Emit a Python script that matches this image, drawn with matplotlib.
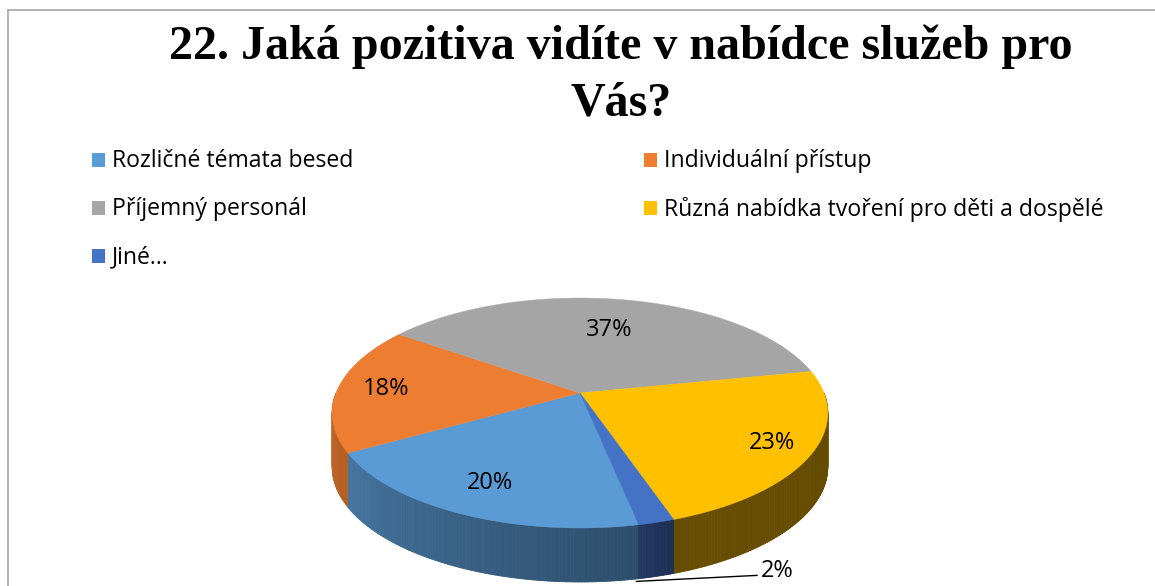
import numpy as np
import matplotlib
matplotlib.use("Agg")
import matplotlib.pyplot as plt
from matplotlib.patches import Polygon, Rectangle

# Data
title_lines = ["22. Jaká pozitiva vidíte v nabídce služeb pro", "Vás?"]
labels = ["Rozličné témata besed", "Individuální přístup", "Příjemný personál",
          "Různá nabídka tvoření pro děti a dospělé", "Jiné…"]
values = [20, 18, 37, 23, 2]
top_colors = ["#5b9bd5", "#ed7d31", "#a5a5a5", "#ffc000", "#4472c4"]

# Geometry of the 3D pie (pixels)
CX, CY = 580, 393
R, A, B = 244, 111.5, 0.174
H = 54
START = -78.5


def proj(t_deg, r=1.0):
    t = np.radians(t_deg)
    s = r * np.sin(t)
    c = r * np.cos(t)
    f = 1.0 / (1.0 + B * s)
    return CX + R * c * f, CY - A * s * f


def shade(t):
    t = (t + 360) % 360 - 360  # into [-360, 0)
    return np.interp(t, [-180, -78, -70, 0], [0.86, 0.5, 0.4, 0.39])


def darker(hexc, k):
    rgb = np.array(matplotlib.colors.to_rgb(hexc))
    return tuple(np.clip(rgb * k, 0, 1))


fig = plt.figure(figsize=(11.55, 5.86), dpi=100)
ax = fig.add_axes([0, 0, 1, 1])
ax.set_xlim(0, 1155)
ax.set_ylim(586, 0)
ax.axis("off")

# chart frame
ax.plot([8, 1160], [10, 10], color="#a6a6a6", lw=1.2)
ax.plot([8, 8], [10, 600], color="#a6a6a6", lw=1.2)

# slice angles (clockwise)
ends = START - 360 * np.cumsum(values) / sum(values)
starts = np.concatenate([[START], ends[:-1]])

# front sides
for st, en, col in zip(starts, ends, top_colors):
    lo, hi = en, st
    for k in range(-2, 2):
        a0, a1 = max(lo, -180 + 360 * k), min(hi, 360 * k)
        if a1 <= a0:
            continue
        n = max(2, int((a1 - a0) / 0.7))
        ts = np.linspace(a0, a1, n + 1)
        for t0, t1 in zip(ts[:-1], ts[1:]):
            x0, y0 = proj(t0)
            x1, y1 = proj(t1)
            c = darker(col, shade((t0 + t1) / 2))
            ax.add_patch(Polygon([(x0, y0), (x1, y1), (x1, y1 + H), (x0, y0 + H)],
                                 closed=True, facecolor=c, edgecolor=c, lw=0.6))

# top faces
for st, en, col in zip(starts, ends, top_colors):
    ts = np.linspace(st, en, 200)
    pts = [(CX, CY)] + [proj(t) for t in ts]
    ax.add_patch(Polygon(pts, closed=True, facecolor=col, edgecolor=col, lw=0.3))

# data labels
label_r = [0.78, 0.80, 0.64, 0.84]
lab_font = dict(family="Open Sans", fontsize=17, color="black")
for i, (st, en, v) in enumerate(zip(starts, ends, values)):
    mid = (st + en) / 2
    if i < len(label_r):
        x, y = proj(mid, label_r[i])
        ax.text(x, y, f"{v}%", ha="center", va="center", **lab_font)
    else:
        x, y = proj(mid)
        y += H
        ax.plot([x - 20, 757], [y + 5, y - 1], color="black", lw=1)
        ax.text(761, y - 5, f"{v}%", ha="left", va="center", **lab_font)

# title
for line, yb in zip(title_lines, [59, 115]):
    ax.text(621, yb, line, ha="center", va="baseline",
            family="Liberation Serif", fontweight="bold", fontsize=34.6)

# legend (2 columns, row-major like Excel)
leg_x = [92, 644]
leg_y = [160, 208, 256]
for i, (lab, col) in enumerate(zip(labels, top_colors)):
    xm = leg_x[i % 2]
    ym = leg_y[i // 2]
    ax.add_patch(Rectangle((xm, ym - 7), 13, 14, facecolor=col, edgecolor="none"))
    ax.text(xm + 20, ym + 1, lab, ha="left", va="center", family="Open Sans",
            fontsize=16.6, color="black")

fig.savefig("out.png", dpi=100)
